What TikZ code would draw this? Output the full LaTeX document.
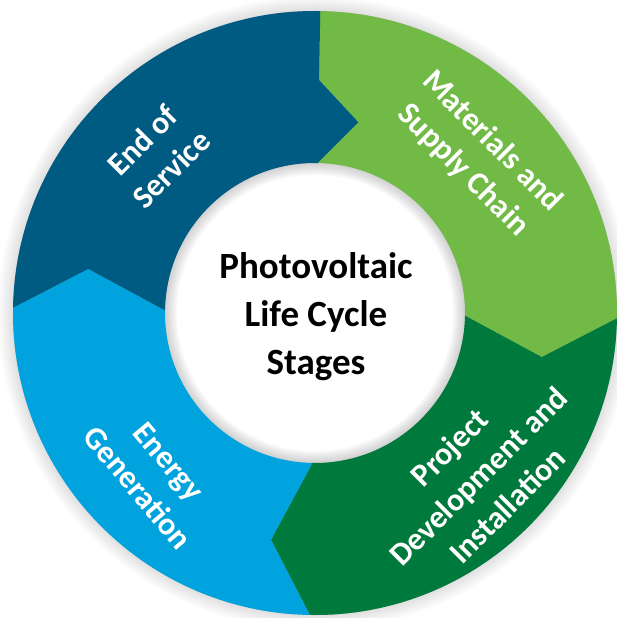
\documentclass[tikz,border=0pt]{standalone}
\usepackage{fontspec}
\setmainfont{Carlito}
\usepackage{tikz}

\definecolor{eosblue}{RGB}{0,91,130}
\definecolor{matgreen}{RGB}{112,186,69}
\definecolor{devgreen}{RGB}{0,122,60}
\definecolor{genblue}{RGB}{0,163,222}

\begin{document}
\begin{tikzpicture}
[x=1pt,y=1pt]
\tikzset{lbl/.style={text=white, font=\bfseries\fontsize{32}{41}\selectfont, align=center}}
\tikzset{mid/.style={text=black, font=\bfseries\fontsize{37}{48}\selectfont, align=center}}
\useasboundingbox (-315,-305) rectangle (302,313);
\foreach \i in {1,...,10}
	\fill[black,opacity=.01,even odd rule] (0,0) circle (302+1.5*\i) circle (150);
\foreach \i in {1,...,8}
	\fill[black,opacity=.025,even odd rule] (0,0) circle (302) circle (150-1.5*\i);
\begin{scope}[rotate=-1]
\fill[matgreen] (90:302) arc[start angle=90, end angle=0, radius=302] -- (-10:231) -- (0:150)
	arc[start angle=0, end angle=90, radius=150] -- (78.2:195.6) -- (90:233) -- cycle;
\fill[devgreen] (0:302) arc[start angle=0, end angle=-90, radius=302] -- (-100:231) -- (-90:150)
	arc[start angle=-90, end angle=0, radius=150] -- (-10:231) -- cycle;
\fill[genblue] (-90:302) arc[start angle=-90, end angle=-180, radius=302] -- (170:231) -- (180:150)
	arc[start angle=180, end angle=270, radius=150] -- (-100:231) -- cycle;
\fill[eosblue] (180:302) arc[start angle=180, end angle=90, radius=302] -- (90:233) -- (78.2:195.6) -- (90:150)
	arc[start angle=90, end angle=180, radius=150] -- (170:231) -- cycle;
\end{scope}
\node[mid] (ctr) at (1,-4) {Photovoltaic\\Life Cycle\\Stages};
\node[lbl, rotate=45] (eos) at (135:224) {End of\\Service};
\node[lbl, rotate=-45] (msc) at (44:226) {Materials and\\Supply Chain};
\node[lbl, rotate=45] (pdi) at (-45:231) {Project\\Development and\\Installation};
\node[lbl, rotate=-50] (egen) at (225:229) {Energy\\Generation};
\end{tikzpicture}
\end{document}
